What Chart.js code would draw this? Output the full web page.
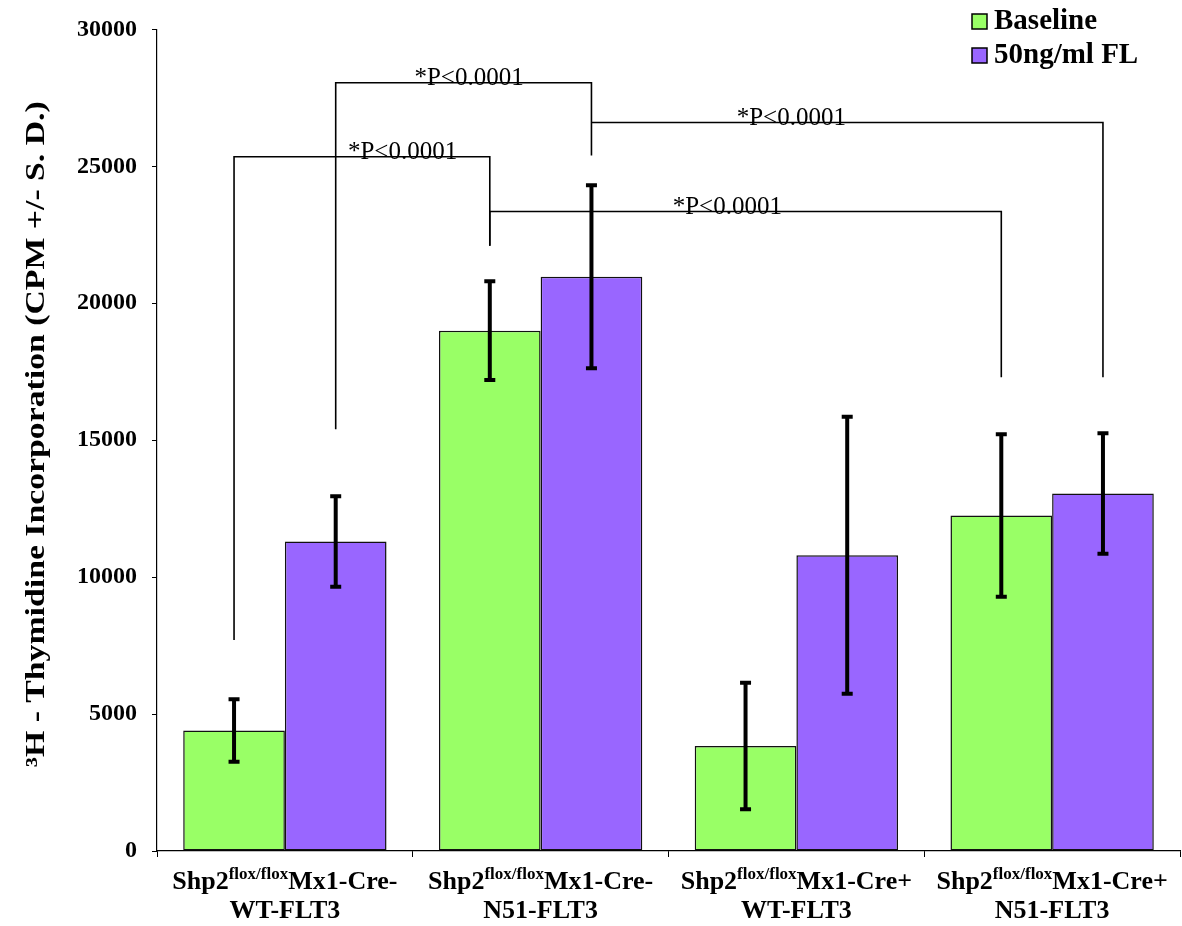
<!DOCTYPE html>
<html>
<head>
<meta charset="utf-8">
<script src="https://cdn.jsdelivr.net/npm/chart.js@4.4.1/dist/chart.umd.min.js"></script>
<style>
  html, body { margin: 0; padding: 0; background: #fff; }
  #wrap { width: 1182px; height: 926px; position: relative; }
</style>
</head>
<body>
<div id="wrap"><canvas id="c"></canvas></div>
<script>
// ---- data ----
const labelMain = ['Shp2', 'Shp2', 'Shp2', 'Shp2'];
const labelSup = ['flox/flox', 'flox/flox', 'flox/flox', 'flox/flox'];
const labelRest = ['Mx1-Cre-', 'Mx1-Cre-', 'Mx1-Cre+', 'Mx1-Cre+'];
const labelLine2 = ['WT-FLT3', 'N51-FLT3', 'WT-FLT3', 'N51-FLT3'];
const categories = labelMain.map((m, i) => m + labelSup[i] + labelRest[i] + ' ' + labelLine2[i]);

const seriesNames = ['Baseline', '50ng/ml FL'];
const baseline = [4400, 19000, 3830, 12250];
const flt3 = [11300, 20970, 10800, 13050];
const baselineSD = [1140, 1800, 2310, 2970];
const flt3SD = [1650, 3340, 5060, 2200];

const yTicks = [0, 5000, 10000, 15000, 20000, 25000, 30000];
const yTitle = '³H - Thymidine Incorporation (CPM +/- S. D.)';

// significance brackets: [datasetIndex, categoryIndex] endpoints, values in data units
const bracketA = [[0, 0], [1, 0], [1, 1], [0, 1]];
const bracketB = [[0, 1], [1, 1], [1, 3], [0, 3]];
const bracketTop = [25350, 28050, 26600, 23350];
const bracketLegA = [7700, 15400, 26600, 22100];
const bracketLegB = [22100, 25400, 17300, 17300];
const bracketLabelAt = [0.46, 0.72, 1.98, 1.73];
const bracketLabel = ['*P<0.0001', '*P<0.0001', '*P<0.0001', '*P<0.0001'];

const GREEN = '#99FF66';
const PURPLE = '#9966FF';
const SERIF = '"Liberation Serif", "Times New Roman", serif';

// ---- plugins ----
const errorBarPlugin = {
  id: 'errorBars',
  afterDatasetsDraw(chart) {
    const ctx = chart.ctx;
    const y = chart.scales.y;
    const sds = [baselineSD, flt3SD];
    ctx.save();
    ctx.strokeStyle = '#000';
    chart.data.datasets.forEach((ds, di) => {
      const meta = chart.getDatasetMeta(di);
      meta.data.forEach((bar, i) => {
        const v = ds.data[i], sd = sds[di][i];
        const yt = y.getPixelForValue(v + sd);
        const yb = y.getPixelForValue(v - sd);
        ctx.lineWidth = 4;
        ctx.beginPath();
        ctx.moveTo(bar.x, yt);
        ctx.lineTo(bar.x, yb);
        ctx.stroke();
        ctx.beginPath();
        ctx.moveTo(bar.x - 5.5, yt);
        ctx.lineTo(bar.x + 5.5, yt);
        ctx.moveTo(bar.x - 5.5, yb);
        ctx.lineTo(bar.x + 5.5, yb);
        ctx.stroke();
      });
    });
    ctx.restore();
  }
};

const bracketPlugin = {
  id: 'brackets',
  afterDraw(chart) {
    const ctx = chart.ctx;
    const y = chart.scales.y, x = chart.scales.x;
    const px = (p) => chart.getDatasetMeta(p[0]).data[p[1]].x;
    ctx.save();
    ctx.strokeStyle = '#000';
    ctx.lineWidth = 1.6;
    ctx.fillStyle = '#000';
    ctx.font = '25px ' + SERIF;
    ctx.textAlign = 'center';
    ctx.textBaseline = 'alphabetic';
    for (let k = 0; k < bracketA.length; k++) {
      const xa = px(bracketA[k]), xb = px(bracketB[k]);
      const yt = y.getPixelForValue(bracketTop[k]);
      const ya = y.getPixelForValue(bracketLegA[k]);
      const yb = y.getPixelForValue(bracketLegB[k]);
      ctx.beginPath();
      ctx.moveTo(xa, ya);
      ctx.lineTo(xa, yt);
      ctx.lineTo(xb, yt);
      ctx.lineTo(xb, yb);
      ctx.stroke();
      ctx.fillText(bracketLabel[k], x.getPixelForValue(bracketLabelAt[k]), yt + 2);
    }
    ctx.restore();
  }
};

const xLabelPlugin = {
  id: 'xLabels',
  afterDraw(chart) {
    const ctx = chart.ctx;
    const x = chart.scales.x;
    const base = chart.chartArea.bottom;
    const mainFont = 'bold 26px ' + SERIF;
    const supFont = 'bold 17px ' + SERIF;
    ctx.save();
    ctx.fillStyle = '#000';
    ctx.textBaseline = 'alphabetic';
    ctx.textAlign = 'left';
    for (let i = 0; i < categories.length; i++) {
      const cx = x.getPixelForValue(i);
      ctx.font = mainFont;
      const w1 = ctx.measureText(labelMain[i]).width;
      const w3 = ctx.measureText(labelRest[i]).width;
      ctx.font = supFont;
      const w2 = ctx.measureText(labelSup[i]).width;
      let sx = cx - (w1 + w2 + w3) / 2;
      const b1 = base + 38;
      ctx.font = mainFont;
      ctx.fillText(labelMain[i], sx, b1);
      sx += w1;
      ctx.font = supFont;
      ctx.fillText(labelSup[i], sx, b1 - 10);
      sx += w2;
      ctx.font = mainFont;
      ctx.fillText(labelRest[i], sx, b1);
      ctx.textAlign = 'center';
      ctx.fillText(labelLine2[i], cx, base + 67);
      ctx.textAlign = 'left';
    }
    ctx.restore();
  }
};

const yTitlePlugin = {
  id: 'yTitle',
  afterDraw(chart) {
    const ctx = chart.ctx;
    const ca = chart.chartArea;
    const cy = (ca.top + ca.bottom) / 2 - 6;
    ctx.save();
    ctx.translate(37, cy);
    ctx.rotate(-Math.PI / 2);
    ctx.scale(1.25, 1);
    ctx.font = 'bold 27px ' + SERIF;
    ctx.fillStyle = '#000';
    ctx.textAlign = 'center';
    ctx.textBaseline = 'middle';
    ctx.fillText(yTitle, 0, 0);
    ctx.restore();
  }
};

const legendPlugin = {
  id: 'customLegend',
  afterDraw(chart) {
    const ctx = chart.ctx;
    const right = chart.chartArea.right;
    const colors = [GREEN, PURPLE];
    ctx.save();
    ctx.font = 'bold 29px ' + SERIF;
    ctx.textBaseline = 'middle';
    ctx.textAlign = 'left';
    seriesNames.forEach((name, i) => {
      const cy = 21 + i * 34;
      const sx = right - 208;
      ctx.fillStyle = colors[i];
      ctx.fillRect(sx, cy - 7, 15, 15);
      ctx.strokeStyle = '#000';
      ctx.lineWidth = 1.5;
      ctx.strokeRect(sx, cy - 7, 15, 15);
      ctx.fillStyle = '#000';
      ctx.fillText(name, sx + 22, cy + 1);
    });
    ctx.restore();
  }
};

// ---- chart ----
new Chart(document.getElementById('c'), {
  type: 'bar',
  data: {
    labels: categories,
    datasets: [
      { label: seriesNames[0], data: baseline, backgroundColor: GREEN, borderColor: '#111', borderWidth: 1.5, borderSkipped: false },
      { label: seriesNames[1], data: flt3, backgroundColor: PURPLE, borderColor: '#111', borderWidth: 1.5, borderSkipped: false }
    ]
  },
  options: {
    responsive: true,
    maintainAspectRatio: false,
    animation: false,
    categoryPercentage: 0.795,
    barPercentage: 1.0,
    layout: { padding: { top: 25, right: 2, left: 0, bottom: 0 } },
    plugins: {
      legend: { display: false },
      tooltip: { enabled: false }
    },
    scales: {
      x: {
        grid: { offset: true, drawOnChartArea: false, tickLength: 6, color: '#000', tickColor: '#000' },
        border: { color: '#000', width: 1.2 },
        ticks: { display: false },
        afterFit(scale) { scale.height = 75; }
      },
      y: {
        min: 0,
        max: 30000,
        afterBuildTicks(scale) { scale.ticks = yTicks.map(v => ({ value: v })); },
        grid: { drawOnChartArea: false, tickLength: 5, color: '#000', tickColor: '#000' },
        border: { color: '#000', width: 1.2 },
        ticks: {
          color: '#000',
          padding: 15,
          font: { family: SERIF, size: 24, weight: 'bold' },
          callback: (v) => String(v)
        },
        title: { display: false, text: yTitle },
        afterFit(scale) { scale.width = 157; }
      }
    }
  },
  plugins: [errorBarPlugin, bracketPlugin, xLabelPlugin, yTitlePlugin, legendPlugin]
});
</script>
</body>
</html>
